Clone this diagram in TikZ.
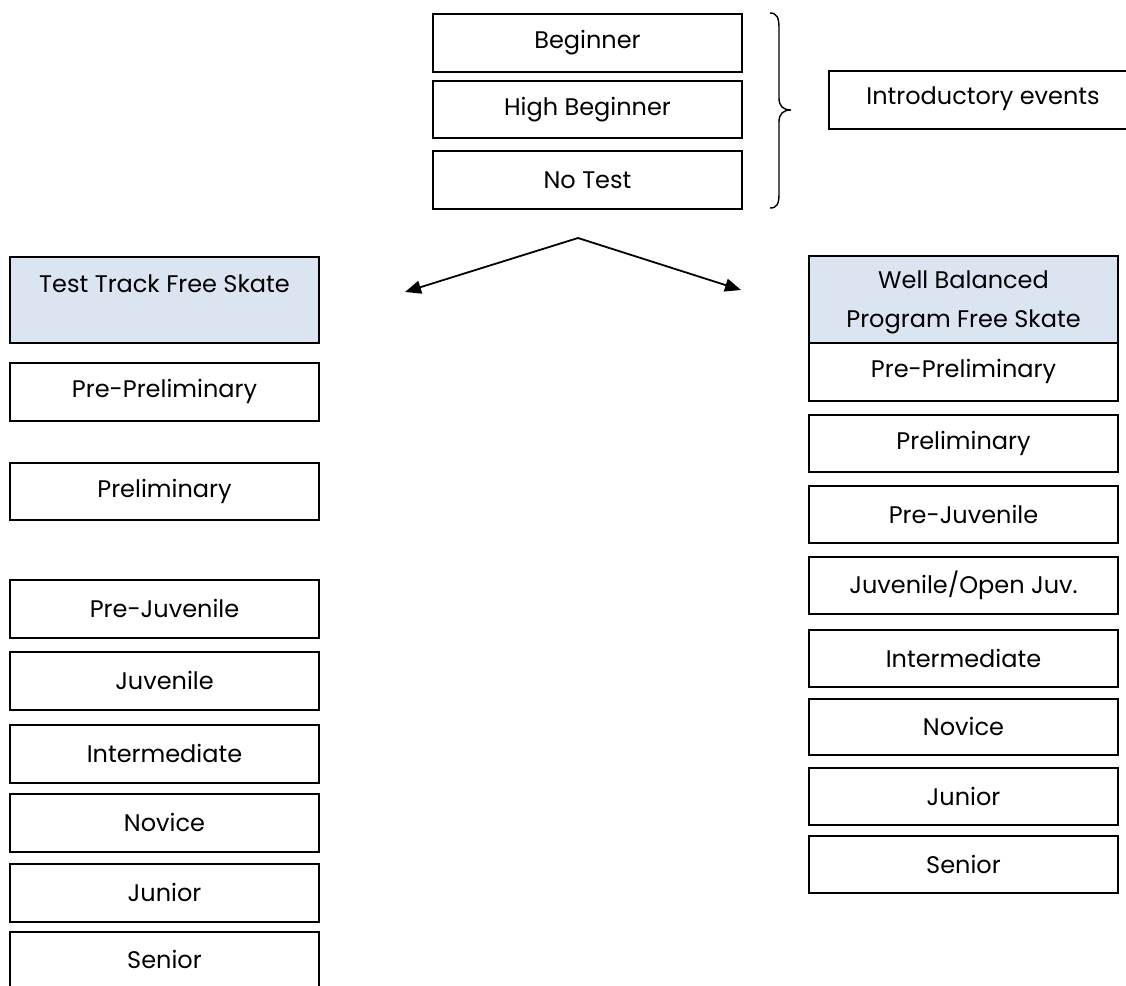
\documentclass[tikz,border=0pt]{standalone}
\usepackage{fontspec}
\setmainfont{Poppins}
\usetikzlibrary{arrows.meta}
\definecolor{hdrblue}{HTML}{DBE5F1}
\tikzset{
  lvl/.style={draw=black, line width=1.8pt, minimum width=309pt, minimum height=58pt, inner sep=0pt, font=\fontsize{24}{28}\selectfont, anchor=north},
  hdr/.style={draw=black, line width=1.8pt, fill=hdrblue, minimum width=309pt, inner sep=0pt, anchor=north},
  txt/.style={font=\fontsize{24}{39}\selectfont, align=center, inner sep=0pt},
  conn/.style={line width=1.8pt, -{Triangle[length=16pt,width=13pt]}},
  brace/.style={line width=1.4pt}
}
\begin{document}
\begin{tikzpicture}[x=1pt,y=-1pt]
\useasboundingbox (0,0) rectangle (1126,985);
% top introductory boxes
\node[lvl, minimum height=58pt] (beg) at (587.5,13) {Beginner};
\node[lvl, minimum height=57pt] (hbeg) at (587.5,80) {High Beginner};
\node[lvl, minimum height=58pt] (notest) at (587.5,150) {No Test};
% brace
\draw[brace] (770,13) .. controls (777,13) and (779,18) .. (779,28) -- (779,98)
  .. controls (779,106) and (783,110) .. (791,110)
  .. controls (783,110) and (779,114) .. (779,122) -- (779,194)
  .. controls (779,204) and (777,208) .. (770,208);
\node[draw=black, line width=1.8pt, minimum width=312pt, minimum height=58pt, inner sep=0pt, anchor=north west] (intro) at (828,70) {};
\node[txt] (introt) at (983,99) {Introductory events};
% arrows
\coordinate (apex) at (578,238);
\coordinate (lt) at (405,292);
\coordinate (rt) at (741,290);
\draw[conn] (apex) -- (lt);
\draw[conn] (apex) -- (rt);
% left column
\node[hdr, minimum height=86pt] (lhdr) at (164.5,256) {};
\node[txt] (lhdrt) at (164.5,284) {Test Track Free Skate};
\node[lvl] (lpp) at (164.5,362) {Pre-Preliminary};
\node[lvl, minimum height=57pt] (lp) at (164.5,462) {Preliminary};
\node[lvl] (lpj) at (164.5,579) {Pre-Juvenile};
\node[lvl] (lj) at (164.5,651) {Juvenile};
\node[lvl] (li) at (164.5,724) {Intermediate};
\node[lvl] (ln) at (164.5,793) {Novice};
\node[lvl] (ljr) at (164.5,863) {Junior};
\node[lvl, minimum height=70pt] (ls) at (164.5,931) {};
\node[txt] (lst) at (164.5,959) {Senior};
% right column
\node[hdr, minimum height=87pt] (rhdr) at (963.5,255) {};
\node[txt] (rhdrt) at (963.5,302) {Well Balanced\\Program Free Skate};
\node[lvl] (rpp) at (963.5,342) {Pre-Preliminary};
\node[lvl, minimum height=57pt] (rp) at (963.5,414) {Preliminary};
\node[lvl, minimum height=57pt] (rpj) at (963.5,485) {Pre-Juvenile};
\node[lvl, minimum height=57pt] (rj) at (963.5,556) {Juvenile/Open Juv.};
\node[lvl, minimum height=57pt] (ri) at (963.5,629) {Intermediate};
\node[lvl, minimum height=56pt] (rn) at (963.5,698) {Novice};
\node[lvl, minimum height=57pt] (rjr) at (963.5,767) {Junior};
\node[lvl, minimum height=57pt] (rs) at (963.5,835) {Senior};
\end{tikzpicture}
\end{document}
